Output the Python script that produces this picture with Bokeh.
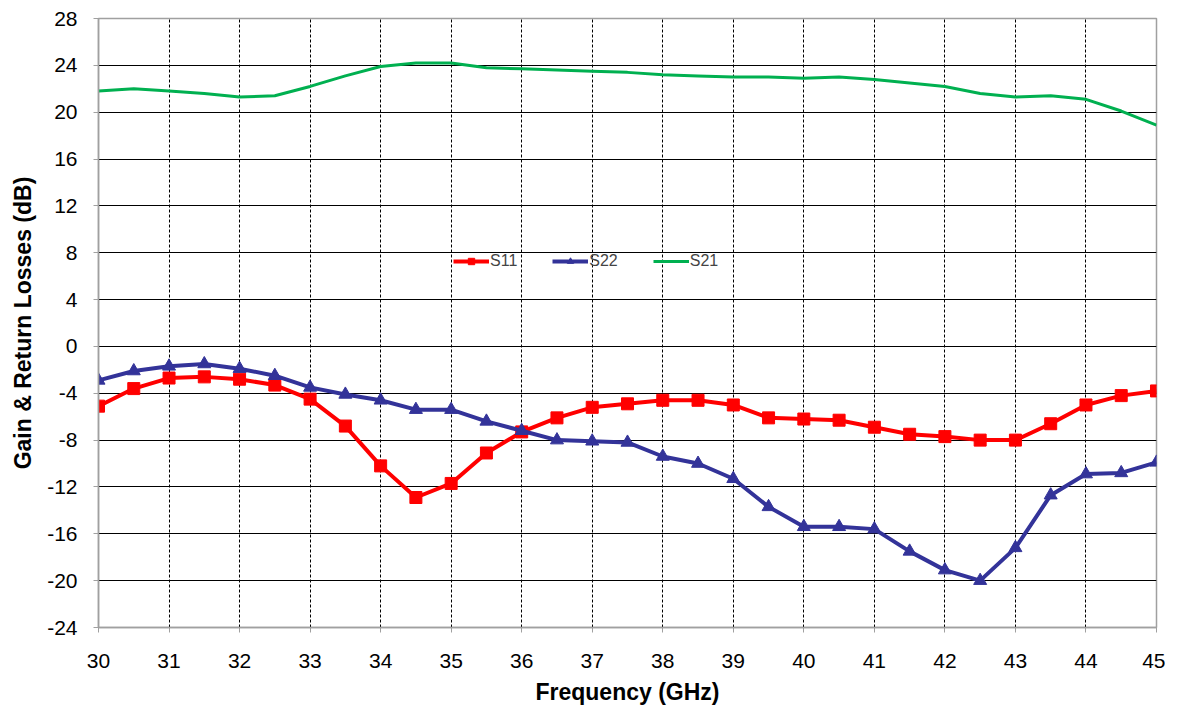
from bokeh.plotting import figure
from bokeh.models import Legend, LegendItem, FixedTicker, Range1d
from bokeh.embed import file_html
from bokeh.resources import INLINE

freq = [30.0, 30.5, 31.0, 31.5, 32.0, 32.5, 33.0, 33.5, 34.0, 34.5, 35.0, 35.5,
        36.0, 36.5, 37.0, 37.5, 38.0, 38.5, 39.0, 39.5, 40.0, 40.5, 41.0, 41.5,
        42.0, 42.5, 43.0, 43.5, 44.0, 44.5, 45.0]
s11 = [-5.1, -3.6, -2.7, -2.6, -2.8, -3.3, -4.5, -6.8, -10.2, -12.9, -11.7, -9.1,
       -7.3, -6.1, -5.2, -4.9, -4.6, -4.6, -5.0, -6.1, -6.2, -6.3, -6.9, -7.5,
       -7.7, -8.0, -8.0, -6.6, -5.0, -4.2, -3.8]
s22 = [-2.9, -2.1, -1.7, -1.5, -1.9, -2.5, -3.5, -4.1, -4.6, -5.4, -5.4, -6.4,
       -7.2, -8.0, -8.1, -8.2, -9.4, -10.0, -11.3, -13.7, -15.4, -15.4, -15.6, -17.5,
       -19.1, -20.0, -17.2, -12.7, -10.9, -10.8, -9.9]
s21 = [21.8, 22.0, 21.8, 21.6, 21.3, 21.4, 22.2, 23.1, 23.9, 24.2, 24.2, 23.8,
       23.7, 23.6, 23.5, 23.4, 23.2, 23.1, 23.0, 23.0, 22.9, 23.0, 22.8, 22.5,
       22.2, 21.6, 21.3, 21.4, 21.1, 20.1, 18.9]
x_ticks = list(range(30, 46))
y_ticks = list(range(-24, 29, 4))

FONT = "Liberation Sans"

p = figure(width=1165, height=708, output_backend="svg", toolbar_location=None,
           x_range=Range1d(30, 45), y_range=Range1d(-24, 28),
           min_border_left=98, min_border_right=9, min_border_top=18, min_border_bottom=81)

p.background_fill_color = "white"
p.border_fill_color = "white"
p.outline_line_color = "#A0A0A0"
p.outline_line_width = 1.5

# grids
p.xgrid.ticker = FixedTicker(ticks=x_ticks)
p.ygrid.ticker = FixedTicker(ticks=y_ticks)
p.xgrid.grid_line_color = "black"
p.xgrid.grid_line_dash = "3 2"
p.xgrid.grid_line_width = 1
p.ygrid.grid_line_color = "black"
p.ygrid.grid_line_width = 1

# axes
p.xaxis.ticker = FixedTicker(ticks=x_ticks)
p.yaxis.ticker = FixedTicker(ticks=y_ticks)
p.yaxis.major_label_overrides = {v: str(v) for v in y_ticks}
for ax in (p.xaxis[0], p.yaxis[0]):
    ax.axis_line_color = "#A0A0A0"
    ax.axis_line_width = 1.5
    ax.major_tick_line_color = "#A0A0A0"
    ax.major_tick_out = 5
    ax.major_tick_in = 0
    ax.minor_tick_line_color = None
    ax.major_label_text_font = FONT
    ax.major_label_text_font_size = "21px"
    ax.major_label_text_color = "black"
    ax.axis_label_text_font = FONT
    ax.axis_label_text_font_style = "bold"
    ax.axis_label_text_font_size = "23px"
    ax.axis_label_text_color = "black"
p.xaxis.axis_label = "Frequency (GHz)"
p.yaxis.axis_label = "Gain & Return Losses (dB)"
p.xaxis.major_label_standoff = 21
p.yaxis.major_label_standoff = 16
p.xaxis.axis_label_standoff = 8
p.yaxis.axis_label_standoff = 8

# series
r11l = p.line(freq, s11, line_color="#FF0000", line_width=4)
r11m = p.scatter(freq, s11, marker="square", size=12, fill_color="#FF0000", line_color="#FF0000")
r22l = p.line(freq, s22, line_color="#333399", line_width=4)
r22m = p.scatter(freq, s22, marker="triangle", size=13, fill_color="#333399", line_color="#333399")
r21l = p.line(freq, s21, line_color="#00B050", line_width=3)

legend = Legend(items=[
    LegendItem(label="S11", renderers=[r11l, r11m]),
    LegendItem(label="S22", renderers=[r22l, r22m]),
    LegendItem(label="S21", renderers=[r21l]),
], orientation="horizontal", location=(355, 357))
legend.background_fill_alpha = 0
legend.border_line_color = None
legend.label_text_font = FONT
legend.label_text_font_size = "16px"
legend.glyph_width = 36
legend.glyph_height = 16
legend.spacing = 35
legend.label_standoff = 1
legend.padding = 2
legend.margin = 0
p.add_layout(legend, "center")

open("out.html", "w").write(file_html(p, INLINE))
